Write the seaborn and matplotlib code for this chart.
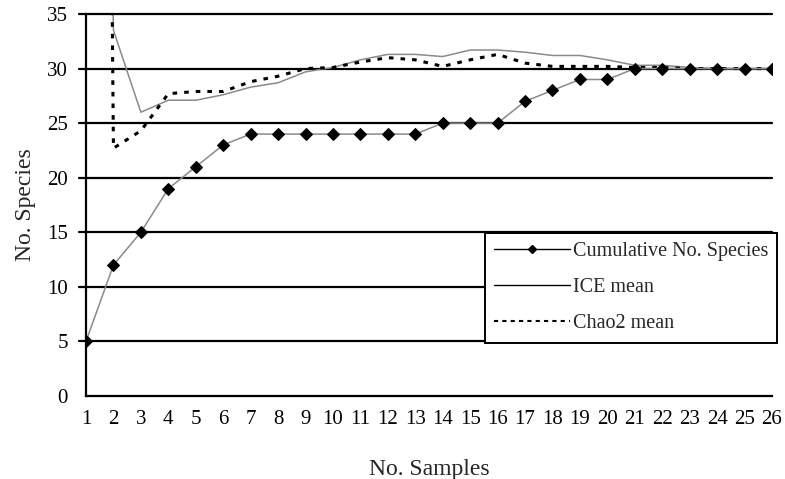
import numpy as np
import pandas as pd
import matplotlib
matplotlib.use("Agg")
import matplotlib.pyplot as plt
from matplotlib.lines import Line2D
import seaborn as sns

samples = list(range(1, 27))
cumulative = [5, 12, 15, 19, 21, 23, 24, 24, 24, 24, 24, 24, 24,
              25, 25, 25, 27, 28, 29, 29, 30, 30, 30, 30, 30, 30]
# first estimates run far off the top of the chart
ice_mean = [150, 33.5, 26.0, 27.1, 27.1, 27.6, 28.3, 28.7, 29.7, 30.1, 30.8, 31.3, 31.3,
            31.1, 31.7, 31.7, 31.5, 31.2, 31.2, 30.8, 30.3, 30.3, 30.1, 30.0, 30.0, 30.0]
chao2_mean = [300, 22.7, 24.3, 27.7, 27.9, 27.9, 28.8, 29.3, 30.0, 30.1, 30.6, 31.0, 30.8,
              30.2, 30.8, 31.3, 30.5, 30.2, 30.2, 30.2, 30.1, 30.1, 30.0, 30.0, 30.0, 30.0]

sns.set_style("white")
plt.rcParams["font.family"] = ["Liberation Serif", "DejaVu Serif"]

fig = plt.figure(figsize=(7.85, 4.79), dpi=100)
ax = fig.add_axes([86 / 785, 1 - 396 / 479, 686 / 785, 382 / 479])

for y in range(5, 36, 5):
    ax.axhline(y, color="black", lw=1.6, zorder=1, xmin=-0.01, clip_on=False)

sns.lineplot(x=samples, y=ice_mean, ax=ax, color="#8a8a8a", lw=1.1, zorder=3)
sns.lineplot(x=samples, y=chao2_mean, ax=ax, color="black", lw=2.2,
             zorder=4).lines[-1].set_dashes((1.5, 2.3))
sns.lineplot(x=samples, y=cumulative, ax=ax, color="#8a8a8a", lw=1.1,
             marker="D", markersize=6.5, markerfacecolor="black",
             markeredgecolor="black", zorder=5)

ax.set_xlim(1, 26)
ax.set_ylim(0, 35)
ax.set_xticks(samples)
ax.set_yticks(range(0, 36, 5))
ax.tick_params(axis="both", direction="out", length=6, width=1.3, colors="black",
               labelsize=15)
ax.tick_params(axis="x", pad=4)
ax.tick_params(axis="y", pad=7)
for side in ["top", "right"]:
    ax.spines[side].set_visible(False)
for side in ["left", "bottom"]:
    ax.spines[side].set_color("black")
    ax.spines[side].set_linewidth(1.6)

ax.set_xlabel("No. Samples", fontsize=17, labelpad=22)
ax.set_ylabel("No. Species", fontsize=17, labelpad=8)

handles = [
    Line2D([], [], color="black", lw=1.0, marker="D", markersize=4),
    Line2D([], [], color="black", lw=1.0),
    Line2D([], [], color="black", lw=1.5, dashes=(2, 2)),
]
labels = ["Cumulative No. Species", "ICE mean", "Chao2 mean"]
leg = ax.legend(handles, labels, loc="upper left", bbox_to_anchor=(0.582, 0.427),
                fontsize=14.5, frameon=True, fancybox=False, framealpha=1,
                edgecolor="black", handlelength=3.75, handletextpad=0.15,
                labelspacing=0.85, borderpad=0.45, borderaxespad=0)
leg.get_frame().set_linewidth(1.4)
leg.set_zorder(10)

fig.savefig("out.png", dpi=100)
